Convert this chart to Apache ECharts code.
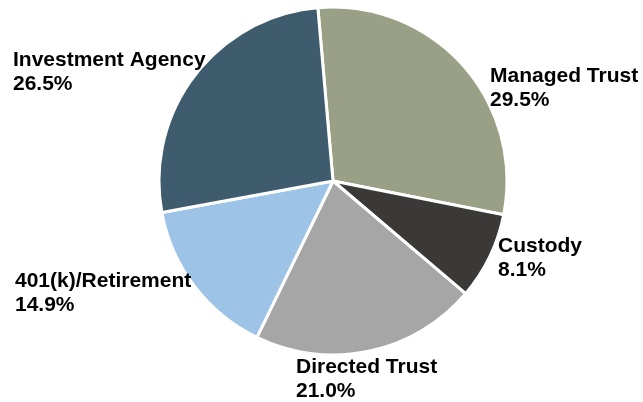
<!DOCTYPE html>
<html>
<head>
<meta charset="utf-8">
<script src="https://cdn.jsdelivr.net/npm/echarts@6/dist/echarts.min.js"></script>
<style>
  html, body { margin: 0; padding: 0; background: #ffffff; }
  #chart { width: 643px; height: 402px; }
</style>
</head>
<body>
<div id="chart"></div>
<script>
// Business line mix, clockwise from the top
const categories = ['Managed Trust', 'Custody', 'Directed Trust', '401(k)/Retirement', 'Investment Agency'];
const shares = [29.5, 8.1, 21.0, 14.9, 26.5];
const sliceColors = ['#9AA085', '#3A3937', '#A6A6A6', '#9DC3E6', '#3F5B6E'];

// Label anchor points (left edge, vertical middle of the two-line block)
const labelAnchors = [
  [490, 88],
  [498, 258],
  [296, 379],
  [15, 293],
  [13, 72]
];

const chart = echarts.init(document.getElementById('chart'), null, { renderer: 'canvas' });

chart.setOption({
  backgroundColor: '#ffffff',
  animation: false,
  series: [{
    type: 'pie',
    center: [333, 181],
    radius: [0, 174],
    startAngle: 95,
    clockwise: true,
    avoidLabelOverlap: false,
    data: categories.map((name, i) => ({
      name: name,
      value: shares[i],
      itemStyle: { color: sliceColors[i] }
    })),
    itemStyle: {
      borderColor: '#ffffff',
      borderWidth: 3
    },
    label: {
      show: true,
      position: 'outside',
      formatter: p => p.name + '\n' + p.value.toFixed(1) + '%',
      fontFamily: 'Liberation Sans, Arial, sans-serif',
      fontWeight: 'bold',
      fontSize: 21,
      lineHeight: 24,
      color: '#000000'
    },
    labelLine: { show: false },
    labelLayout: params => ({
      x: labelAnchors[params.dataIndex][0],
      y: labelAnchors[params.dataIndex][1],
      align: 'left',
      verticalAlign: 'middle'
    })
  }]
});
</script>
</body>
</html>
